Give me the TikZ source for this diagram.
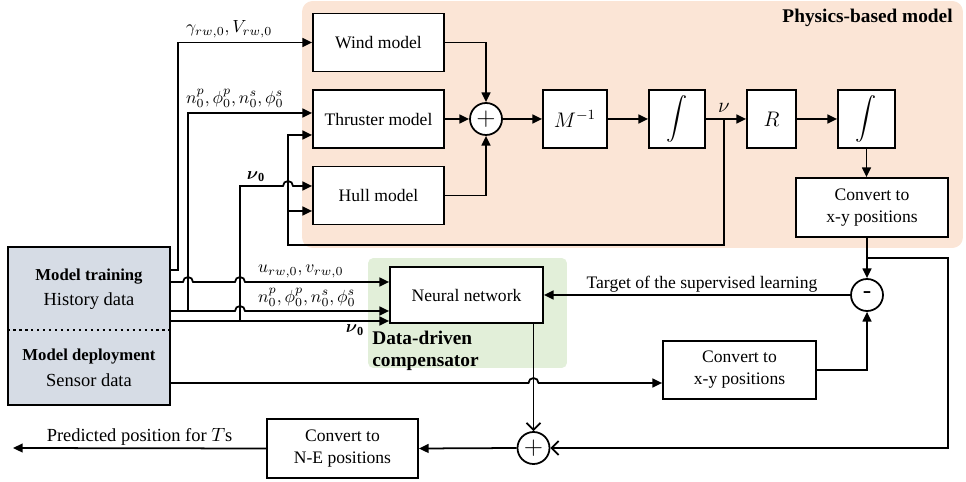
\documentclass[tikz,border=0pt]{standalone}
\usepackage{amsmath}
\usepackage{amssymb}
\usepackage{fontspec}
\setmainfont{Liberation Serif}
\usepackage{tikz}
\usetikzlibrary{arrows.meta, positioning, calc}
\definecolor{PhysicsPeach}{HTML}{FBE5D6}
\definecolor{DataGreen}{HTML}{E2EFD9}
\definecolor{SourceGrey}{HTML}{D6DCE5}
\definecolor{LineBlack}{HTML}{000000}
\tikzset{
    % Boxes with sharp corners
    block/.style={
        rectangle,
        draw=LineBlack,
        fill=white,
        line width=1pt,
        minimum width=2.62cm,
        minimum height=1.16cm,
        inner sep=1pt,
        align=center,
        font=\fontsize{10}{12.5}\selectfont
    },
    small block/.style={
        block,
        minimum width=1.12cm,
        font=\large
    },
    summer/.style={
        circle,
        draw=LineBlack,
        fill=white,
        line width=1pt,
        minimum size=0.64cm,
        inner sep=0pt,
        font=\Large
    },
    region label/.style={
        align=left,
        inner sep=0pt,
        font=\fontsize{11}{12.5}\selectfont\bfseries
    },
    source title/.style={
        font=\fontsize{9.5}{11}\selectfont\bfseries
    },
    source text/.style={
        font=\fontsize{10.5}{12}\selectfont
    },
    signal label/.style={
        inner sep=1pt,
        font=\fontsize{10}{12}\selectfont
    },
    arrow style/.style={
        -{Triangle[length=5.5pt, width=5pt]},
        line width=1pt,
        LineBlack
    },
    open arrow style/.style={
        -{Straight Barb[length=4pt, width=8pt]},
        line width=1pt,
        LineBlack
    }
}

\begin{document}
\begin{tikzpicture}[x=0.02cm, y=-0.02cm]
        \useasboundingbox (0,0) rectangle (966,482);

        % Physics-based model region
        \node[fill=PhysicsPeach, rounded corners=6pt, minimum width=13.22cm, minimum height=4.94cm] (physics) at (632.5,124.5) {};
        \node[region label, anchor=east] (physicslabel) at (953,18) {Physics-based model};

        % Data-driven compensator region
        \node[fill=DataGreen, rounded corners=3pt, minimum width=3.98cm, minimum height=2.2cm] (datadriven) at (467.5,313) {};
        \node[region label, anchor=north west] (datalabel) at (372,331) {Data-driven\\compensator};

        % Data source
        \node[block, fill=SourceGrey, minimum width=3.24cm, minimum height=3.16cm] (databox) at (89,326) {};
        \node[source title] (traintitle) at (89,277) {Model training};
        \node[source text] (traintext) at (89,301) {History data};
        \node[source title] (deploytitle) at (89,357) {Model deployment};
        \node[source text] (deploytext) at (89,380) {Sensor data};
        \draw[dotted, line width=1.4pt] (databox.west |- 0,330) -- (databox.east |- 0,330);

        % Physics-based model blocks
        \node[block] (wind) at (378.5,42.5) {Wind model};
        \node[block] (thruster) at (378.5,119) {Thruster model};
        \node[block] (hull) at (378.5,195.5) {Hull model};
        \node[summer] (sumA) at (486,119) {$+$};
        \node[small block, minimum width=1.28cm] (minv) at (575,119) {$M^{-1}$};
        \node[small block] (intA) at (677,119) {$\displaystyle\int$};
        \node[small block, minimum width=0.98cm] (rot) at (771.5,119) {$R$};
        \node[small block, minimum width=1.14cm] (intB) at (866.5,119) {$\displaystyle\int$};
        \node[block, minimum width=3.04cm, minimum height=1.18cm] (xyA) at (872,207.5) {Convert to\\x-y positions};
        \coordinate (nu) at (724,119);
        \node[anchor=south, inner sep=1pt, font=\large] (nulabel) at (724,115) {$\nu$};

        % Compensator and output blocks
        \node[block, minimum width=3.06cm, minimum height=1.12cm] (nn) at (466.5,295) {Neural network};
        \node[summer] (minus) at (867,295) {-};
        \node[block, minimum width=3.06cm] (xyB) at (739.5,370) {Convert to\\x-y positions};
        \node[summer] (sumB) at (533.5,448) {$+$};
        \node[block, minimum width=3.02cm, minimum height=1.18cm] (ne) at (342.5,448.5) {Convert to\\N-E positions};
        \coordinate (out) at (13,448);
        \coordinate (fork) at (867,258);

        % Physics chain
        \draw[arrow style] (wind.east) -| (sumA.north);
        \draw[arrow style] (thruster.east) -- (sumA.west);
        \draw[arrow style] (hull.east) -| (sumA.south);
        \draw[arrow style] (sumA.east) -- (minv.west);
        \draw[arrow style] (minv.east) -- (intA.west);
        \draw[arrow style] (intA.east) -- (rot.west);
        \draw[arrow style] (rot.east) -- (intB.west);
        \draw[arrow style] (intB.south) -- (intB.south |- xyA.north);

        % Velocity feedback
        \draw[arrow style] (nu) |- (288,245) |- (thruster.west |- 0,135);
        \draw[arrow style] (288,211) -- (hull.west |- 0,211);

        % Inputs from the data source
        \draw[arrow style] (databox.east |- 0,270) -- (178,270) |- (wind.west);
        \draw[arrow style] (databox.east |- 0,282) -- (183,282) arc[start angle=180, end angle=0, radius=0.1cm]
            -- (235,282) arc[start angle=180, end angle=0, radius=0.1cm] -- (nn.west |- 0,282);
        \draw[arrow style] (databox.east |- 0,311) -- (235,311) arc[start angle=180, end angle=0, radius=0.1cm]
            -- (nn.west |- 0,311);
        \draw[arrow style] (188,311) |- (thruster.west |- 0,113);
        \draw[arrow style] (databox.east |- 0,321) -- (nn.west |- 0,321);
        \draw[arrow style] (240,321) |- (283,186) arc[start angle=180, end angle=0, radius=0.1cm]
            -- (hull.west |- 0,186);
        \draw[arrow style] (databox.east |- 0,383) -- (528.5,383) arc[start angle=180, end angle=0, radius=0.1cm]
            -- (xyB.west |- 0,383);

        % Signal labels
        \node[signal label, anchor=south west] (windin) at (184,40) {$\gamma_{rw,0}, V_{rw,0}$};
        \node[signal label, anchor=south west] (thrustin) at (184,110) {$n_0^p, \phi_0^p, n_0^s, \phi_0^s$};
        \node[signal label, anchor=south] (nuzeroA) at (256,184) {$\boldsymbol{\nu}_{\mathbf{0}}$};
        \node[signal label, anchor=south west] (windnn) at (256,280) {$u_{rw,0}, v_{rw,0}$};
        \node[signal label, anchor=south west] (thrustnn) at (256,309) {$n_0^p, \phi_0^p, n_0^s, \phi_0^s$};
        \node[signal label, anchor=north] (nuzeroB) at (355,323) {$\boldsymbol{\nu}_{\mathbf{0}}$};

        % Supervised learning target and output
        \draw[arrow style] (xyA.south -| minus) -- (minus.north);
        \draw[arrow style] (xyB.east) -| (minus.south);
        \draw[arrow style] (minus.west) -- (nn.east) node[signal label, midway, above, xshift=0.1cm] (target) {Target of the supervised learning};
        \draw[open arrow style] (nn.south -| sumB) -- (sumB.north);
        \draw[open arrow style] (fork) -- (948,258) |- (sumB.east);
        \draw[arrow style] (sumB.west) -- (ne.east);
        \draw[arrow style] (ne.west) -- (out) node[signal label, midway, above, font=\fontsize{10.5}{12}\selectfont] (predicted) {Predicted position for $T$s};
    \end{tikzpicture}
\end{document}
